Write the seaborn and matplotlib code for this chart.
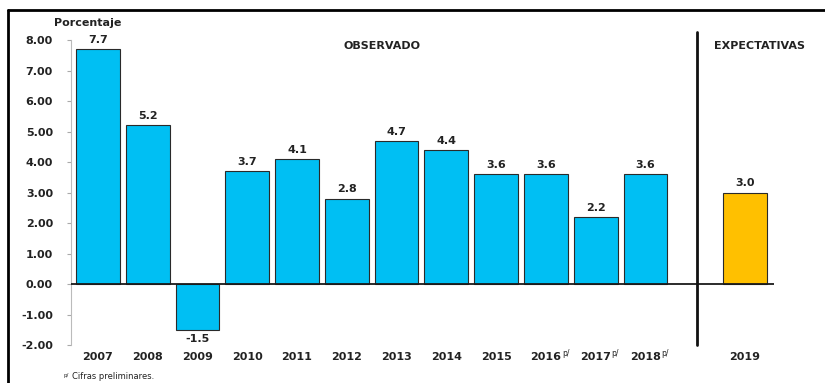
import matplotlib
matplotlib.use("Agg")
import matplotlib.pyplot as plt
import seaborn as sns
import pandas as pd
import numpy as np
from matplotlib.lines import Line2D

years = ["2007", "2008", "2009", "2010", "2011", "2012", "2013", "2014",
         "2015", "2016", "2017", "2018", "2019"]
values = [7.7, 5.2, -1.5, 3.7, 4.1, 2.8, 4.7, 4.4, 3.6, 3.6, 2.2, 3.6, 3.0]
groups = ["Observado"] * 12 + ["Expectativas"]
preliminary = ["2016", "2017", "2018"]
yticks = [-2, -1, 0, 1, 2, 3, 4, 5, 6, 7, 8]

sns.set_theme(style="white")
plt.rcParams["font.family"] = ["DejaVu Sans"]

df = pd.DataFrame({"year": years, "value": values, "group": groups})
order = years[:12] + [" "] + years[12:]

fig = plt.figure(figsize=(8.25, 3.83), dpi=100)
ax = fig.add_axes([0.0861, 0.0992, 0.938 - 0.0861, 0.8042])

sns.barplot(data=df, x="year", y="value", hue="group", order=order,
            palette={"Observado": "#00BFF3", "Expectativas": "#FFC000"},
            saturation=1, width=0.88, edgecolor="#2a2a2a", linewidth=0.8,
            legend=False, dodge=False, ax=ax)

ax.set_xlim(-0.54, 13.58)
ax.set_ylim(-2, 8.1)
ax.set_xlabel("")
ax.set_ylabel("")

# zero line
ax.axhline(0, color="#1a1a1a", lw=1.3, zorder=3)

# separator line
ax.plot([12.03, 12.03], [-2.0, 8.25], color="#111111", lw=2, clip_on=False, zorder=4)

# value labels
for y, v in zip(years, values):
    xpos = order.index(y)
    if v >= 0:
        ax.annotate(f"{v:.1f}", (xpos, v), xytext=(0, 3), textcoords="offset points",
                    ha="center", va="bottom", fontsize=8, fontweight="bold",
                    color="#222222", annotation_clip=False)
    else:
        ax.annotate(f"{v:.1f}", (xpos, v), xytext=(0, -3), textcoords="offset points",
                    ha="center", va="top", fontsize=8, fontweight="bold",
                    color="#222222", annotation_clip=False)

# ticks
ax.set_yticks(yticks)
ax.set_yticklabels([f"{t:.2f}" for t in yticks], fontsize=8, fontweight="bold", color="#222222")
ax.set_xticks(range(len(order)))
ax.set_xticklabels([o.strip() for o in order], fontsize=8, fontweight="bold", color="#222222")
ax.tick_params(axis="y", left=True, length=3, width=0.8, color="#aaaaaa", pad=10, direction="out")
ax.tick_params(axis="x", bottom=False, length=0, pad=5)

# superscripts for preliminary figures
for y in preliminary:
    xpos = order.index(y)
    ax.annotate("p/", (xpos, 0), xycoords=ax.get_xaxis_transform(),
                xytext=(11.5, -3), textcoords="offset points", ha="left", va="top",
                fontsize=5.5, color="#222222", annotation_clip=False)

for s in ["top", "right", "bottom"]:
    ax.spines[s].set_visible(False)
ax.spines["left"].set_color("#bbbbbb")
ax.spines["left"].set_linewidth(0.8)
ax.spines["left"].set_bounds(-2, 8)

# headings
ax.text(-0.2, 8.57, "Porcentaje", fontsize=8, fontweight="bold", color="#222222",
        ha="center", va="center", clip_on=False)
ax.text(5.7, 7.8, "OBSERVADO", fontsize=8, fontweight="bold", color="#222222",
        ha="center", va="center")
ax.text(13.3, 7.8, "EXPECTATIVAS", fontsize=8, fontweight="bold", color="#222222",
        ha="center", va="center", clip_on=False)

# footnote
fig.text(0.077, 0.012, "p/", fontsize=4, color="#222222", ha="left", va="bottom")
fig.text(0.087, 0.004, "Cifras preliminares.", fontsize=6, color="#222222",
         ha="left", va="bottom")

# figure border (top and left only visible)
fig.add_artist(Line2D([8 / 825, 1.0], [1 - 10 / 383, 1 - 10 / 383], color="black", lw=2,
                      transform=fig.transFigure))
fig.add_artist(Line2D([8 / 825, 8 / 825], [0, 1 - 10 / 383], color="black", lw=2,
                      transform=fig.transFigure))

fig.savefig("out.png", dpi=100)
